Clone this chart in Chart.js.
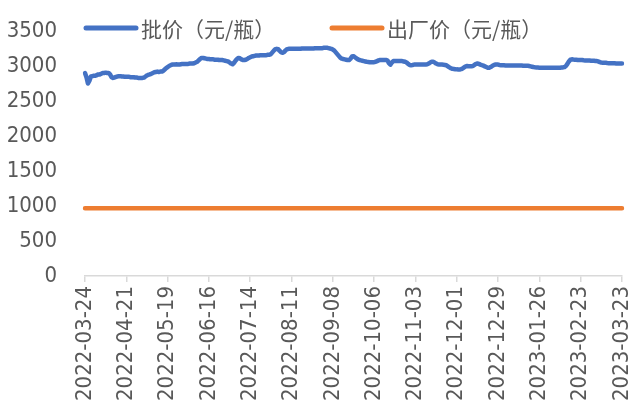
<!DOCTYPE html>
<html>
<head>
<meta charset="utf-8">
<title>批价与出厂价</title>
<script src="https://cdn.jsdelivr.net/npm/chart.js@4/dist/chart.umd.min.js"></script>
<style>
    html, body { margin: 0; padding: 0; background: #ffffff; overflow: hidden; }
    #wrap { width: 632px; height: 412px; overflow: hidden; position: relative; }
    #priceChart { position: absolute; left: 0; top: 0; }
</style>
</head>
<body>
<div id="wrap">
    <canvas id="priceChart" width="632" height="436"></canvas>
</div>
<script>
// First day of the daily series and the dates that get a tick label
const startDate = '2022-03-24';
const dayCount = 365;
const tickDates = [
    '2022-03-24', '2022-04-21', '2022-05-19', '2022-06-16', '2022-07-14',
    '2022-08-11', '2022-09-08', '2022-10-06', '2022-11-03', '2022-12-01',
    '2022-12-29', '2023-01-26', '2023-02-23', '2023-03-23'
];
const yTicks = [0, 500, 1000, 1500, 2000, 2500, 3000, 3500];

// 批价 (元/瓶), one value per calendar day
const wholesalePrice = [
    2900, 2840, 2750, 2790, 2850,  2855, 2860, 2860, 2870, 2880,
    2880, 2890, 2900, 2900, 2905,  2900, 2900, 2880, 2840, 2830,
    2835, 2845, 2850, 2855, 2855,  2850, 2850, 2845, 2845, 2845,
    2845, 2840, 2840, 2840, 2835,  2835, 2830, 2830, 2830, 2830,
    2835, 2850, 2865, 2875, 2880,  2890, 2900, 2910, 2915, 2920,
    2915, 2920, 2920, 2930, 2950,  2970, 2985, 3000, 3010, 3020,
    3020, 3020, 3025, 3020, 3020,  3025, 3030, 3030, 3030, 3030,
    3030, 3035, 3035, 3035, 3040,  3050, 3060, 3080, 3100, 3115,
    3115, 3110, 3105, 3100, 3100,  3095, 3095, 3095, 3090, 3090,
    3090, 3085, 3085, 3085, 3080,  3075, 3070, 3065, 3050, 3035,
    3025, 3045, 3075, 3100, 3115,  3110, 3095, 3085, 3085, 3090,
    3100, 3115, 3125, 3135, 3140,  3145, 3150, 3150, 3150, 3155,
    3155, 3155, 3155, 3155, 3160,  3160, 3170, 3195, 3220, 3240,
    3245, 3240, 3215, 3195, 3190,  3200, 3225, 3240, 3245, 3245,
    3245, 3245, 3245, 3245, 3245,  3245, 3245, 3250, 3250, 3250,
    3250, 3250, 3250, 3250, 3250,  3250, 3255, 3255, 3255, 3255,
    3255, 3255, 3260, 3260, 3260,  3255, 3250, 3245, 3235, 3220,
    3195, 3170, 3145, 3120, 3105,  3100, 3095, 3090, 3085, 3085,
    3105, 3135, 3140, 3125, 3110,  3095, 3085, 3080, 3075, 3070,
    3065, 3060, 3058, 3055, 3055,  3055, 3055, 3060, 3070, 3080,
    3085, 3085, 3085, 3085, 3085,  3080, 3040, 3020, 3050, 3070,
    3070, 3070, 3070, 3070, 3070,  3070, 3065, 3060, 3050, 3030,
    3015, 3012, 3015, 3020, 3020,  3020, 3022, 3022, 3022, 3022,
    3022, 3022, 3025, 3035, 3050,  3060, 3060, 3050, 3035, 3025,
    3022, 3020, 3020, 3018, 3015,  3010, 2995, 2980, 2968, 2960,
    2958, 2955, 2952, 2950, 2950,  2955, 2965, 2980, 2995, 3000,
    2998, 2998, 2998, 3000, 3015,  3030, 3035, 3030, 3020, 3012,
    3005, 2995, 2985, 2975, 2975,  2985, 3000, 3012, 3020, 3022,
    3020, 3015, 3012, 3010, 3010,  3008, 3008, 3008, 3008, 3008,
    3008, 3008, 3008, 3008, 3008,  3008, 3008, 3005, 3005, 3005,
    3005, 3000, 2995, 2990, 2985,  2982, 2980, 2978, 2976, 2975,
    2975, 2975, 2975, 2975, 2975,  2975, 2975, 2975, 2975, 2975,
    2975, 2975, 2975, 2978, 2980,  2985, 3000, 3030, 3065, 3090,
    3095, 3092, 3090, 3088, 3085,  3085, 3085, 3085, 3082, 3080,
    3080, 3080, 3078, 3075, 3075,  3075, 3072, 3070, 3065, 3055,
    3048, 3045, 3045, 3045, 3042,  3040, 3040, 3038, 3038, 3038,
    3036, 3036, 3036, 3036, 3036
];

// 出厂价 (元/瓶) stays flat over the whole year
const factoryPrice = [969, 969];

const seriesNames = ['批价（元/瓶）', '出厂价（元/瓶）'];
const seriesColors = ['#4472C4', '#ED7D31'];
const textColor = '#595959';
const axisColor = '#D9D9D9';
const tickFont = '"DejaVu Sans Condensed", "Liberation Sans", sans-serif';

// Build the list of daily date strings used as categories
function buildDates(start, count) {
    const dates = [];
    const d = new Date(start + 'T00:00:00Z');
    for (let i = 0; i < count; i++) {
        dates.push(d.toISOString().slice(0, 10));
        d.setUTCDate(d.getUTCDate() + 1);
    }
    return dates;
}

// Legend drawn on top of the plot, the way the original sits over the lines
const topLegend = {
    id: 'topLegend',
    afterDraw(chart) {
        const ctx = chart.ctx;
        const y = 28;
        const starts = [84, 330];
        ctx.save();
        chart.data.datasets.forEach((ds, i) => {
            const x = starts[i];
            ctx.strokeStyle = ds.borderColor;
            ctx.lineWidth = 5;
            ctx.lineCap = 'round';
            ctx.beginPath();
            ctx.moveTo(x + 2, y);
            ctx.lineTo(x + 52, y);
            ctx.stroke();
            ctx.fillStyle = textColor;
            ctx.font = '21px "Noto Sans CJK SC", sans-serif';
            ctx.textBaseline = 'middle';
            ctx.textAlign = 'left';
            ctx.fillText(ds.label, x + 57, y + 1);
        });
        ctx.restore();
    }
};

function drawChart() {
    const dates = buildDates(startDate, dayCount);
    const ctx = document.getElementById('priceChart').getContext('2d');

    new Chart(ctx, {
        type: 'line',
        data: {
            labels: dates,
            datasets: [{
                label: seriesNames[0],
                data: wholesalePrice,
                borderColor: seriesColors[0],
                borderWidth: 4.5,
                borderCapStyle: 'round',
                borderJoinStyle: 'round',
                pointRadius: 0,
                tension: 0
            }, {
                label: seriesNames[1],
                data: [
                    { x: dates[0], y: factoryPrice[0] },
                    { x: dates[dates.length - 1], y: factoryPrice[1] }
                ],
                borderColor: seriesColors[1],
                borderWidth: 4.5,
                borderCapStyle: 'round',
                pointRadius: 0,
                tension: 0
            }]
        },
        options: {
            responsive: false,
            animation: false,
            layout: { padding: { top: 31, right: 10, left: 0, bottom: 0 } },
            plugins: {
                legend: { display: false },
                tooltip: { enabled: false }
            },
            scales: {
                x: {
                    type: 'category',
                    offset: false,
                    grid: {
                        drawOnChartArea: false,
                        drawTicks: true,
                        tickLength: 6,
                        color: axisColor,
                        lineWidth: 1.5
                    },
                    border: { display: true, color: axisColor, width: 1.5 },
                    ticks: {
                        autoSkip: false,
                        maxRotation: 90,
                        minRotation: 90,
                        padding: 4,
                        color: textColor,
                        font: { family: tickFont, size: 22 },
                        callback(value) {
                            const label = this.getLabelForValue(value);
                            return tickDates.includes(label) ? label : null;
                        }
                    },
                    afterFit(scale) {
                        scale.height = 160;
                        scale.paddingLeft = 0;
                        scale.paddingRight = 0;
                    }
                },
                y: {
                    min: yTicks[0],
                    max: yTicks[yTicks.length - 1],
                    grid: { display: false, drawTicks: false },
                    border: { display: false },
                    ticks: {
                        stepSize: yTicks[1] - yTicks[0],
                        padding: 28,
                        color: textColor,
                        font: { family: tickFont, size: 22 },
                        callback: value => String(value)
                    },
                    afterFit(scale) {
                        scale.width = 85;
                        scale.paddingTop = 0;
                        scale.paddingBottom = 0;
                    }
                }
            }
        },
        plugins: [topLegend]
    });
}

document.addEventListener('DOMContentLoaded', drawChart);
</script>
</body>
</html>
